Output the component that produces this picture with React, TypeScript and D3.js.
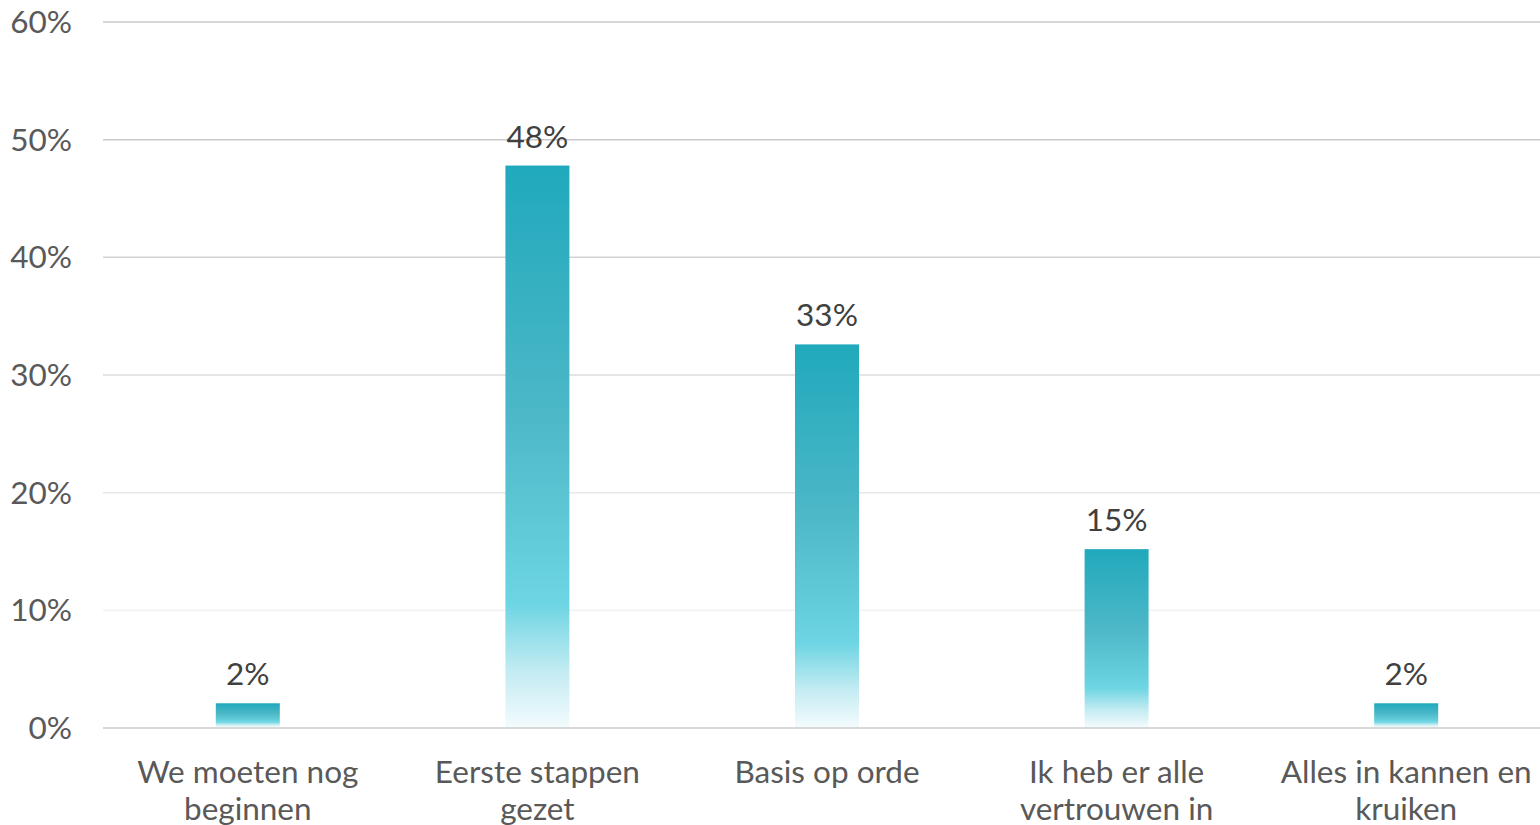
import React from "react";
import * as d3 from "d3";

const categories: string[][] = [
  ["We moeten nog", "beginnen"],
  ["Eerste stappen", "gezet"],
  ["Basis op orde"],
  ["Ik heb er alle", "vertrouwen in"],
  ["Alles in kannen en", "kruiken"],
];
const values: number[] = [2.1, 47.8, 32.6, 15.2, 2.1];
const valueLabels: string[] = ["2%", "48%", "33%", "15%", "2%"];
const yTicks: number[] = [0, 10, 20, 30, 40, 50, 60];

export default function App() {
  const W = 1540;
  const H = 825;
  const left = 103;
  const right = 1551;
  const top = 22;
  const bottom = 728;
  const font = "Lato, 'Open Sans', sans-serif";
  const fs = 31.5;

  const x = d3
    .scaleBand<number>()
    .domain(d3.range(values.length))
    .range([left, right])
    .paddingInner(0)
    .paddingOuter(0);
  const y = d3.scaleLinear().domain([0, 60]).range([bottom, top]);
  const barW = 64;
  const gridColor = d3
    .scaleLinear<string>()
    .domain([10, 30, 50, 60])
    .range(["#f1f1f1", "#dddddd", "#c9c9c9", "#c8c8c8"]);

  return (
    <svg
      width={W}
      height={H}
      style={{ position: "absolute", left: 0, top: 0, background: "#fff" }}
    >
      <defs>
        <linearGradient id="barGrad" x1="0" y1="0" x2="0" y2="1">
          <stop offset="0%" stopColor="#20a9bc" />
          <stop offset="45%" stopColor="#4db8c8" />
          <stop offset="78%" stopColor="#6dd5e3" />
          <stop offset="90%" stopColor="#c2ebf2" />
          <stop offset="100%" stopColor="#f3fbfd" />
        </linearGradient>
      </defs>
      {yTicks.map((t) => (
        <g key={t}>
          <line
            x1={left}
            x2={W}
            y1={y(t)}
            y2={y(t)}
            stroke={t === 0 ? "#d8d8d8" : gridColor(t)}
            strokeWidth={t === 0 ? 2 : 1.5}
          />
          <text
            x={72}
            y={y(t)}
            dy="0.35em"
            textAnchor="end"
            fontFamily={font}
            fontSize={fs}
            fill="#595959"
          >
            {t}%
          </text>
        </g>
      ))}
      {values.map((v, i) => {
        const cx = (x(i) as number) + x.bandwidth() / 2;
        return (
          <g key={i}>
            <rect
              x={cx - barW / 2}
              y={y(v)}
              width={barW}
              height={y(0) - y(v) - 1}
              fill="url(#barGrad)"
            />
            <text
              x={cx}
              y={y(v) - 18}
              textAnchor="middle"
              fontFamily={font}
              fontSize={fs}
              fill="#404040"
            >
              {valueLabels[i]}
            </text>
            {categories[i].map((line, j) => (
              <text
                key={j}
                x={cx}
                y={783 + j * 37}
                textAnchor="middle"
                fontFamily={font}
                fontSize={fs}
                fill="#595959"
              >
                {line}
              </text>
            ))}
          </g>
        );
      })}
    </svg>
  );
}
